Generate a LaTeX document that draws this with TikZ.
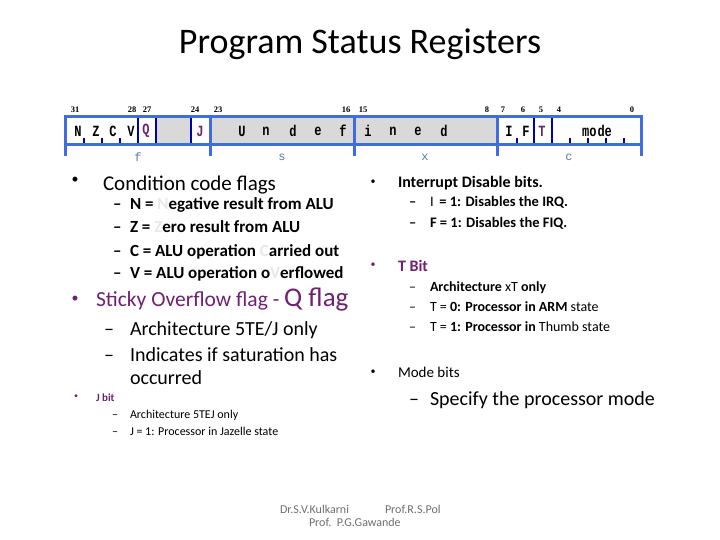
\documentclass[tikz,border=0pt]{standalone}
\usepackage{fontspec}
\usepackage{graphicx}
\setmainfont{Carlito}
\newfontfamily\monof{Liberation Mono}
\newfontfamily\serf{Liberation Serif}
\definecolor{regblue}{RGB}{64,108,222}
\definecolor{divblue}{RGB}{0,0,175}
\definecolor{regfill}{RGB}{217,217,217}
\definecolor{labcol}{RGB}{90,120,160}
\definecolor{purp}{RGB}{112,32,112}
\definecolor{ghost}{RGB}{232,232,232}
\definecolor{foot}{RGB}{110,110,110}
\newcommand{\tallreg}[1]{\scalebox{1}[1.3]{#1}}
\tikzset{
  txt/.style={anchor=base west,inner sep=0pt,outer sep=0pt},
  bul/.style={anchor=center,inner sep=0pt,outer sep=0pt},
  bitnum/.style={inner sep=0pt,font=\serf\bfseries\fontsize{8.5}{8.5}\selectfont},
  reg/.style={inner sep=0pt,font=\monof\bfseries\fontsize{12}{12}\selectfont},
  lab/.style={inner sep=0pt,text=labcol,font=\monof\fontsize{12}{12}\selectfont},
  outer/.style={draw=regblue,line width=3pt},
  bracket/.style={draw=regblue,line width=3pt},
  divider/.style={draw=divblue,line width=2.5pt},
  tick/.style={draw=divblue,line width=2.5pt},
}
\begin{document}
\begin{tikzpicture}[x=1pt,y=-1pt]
\useasboundingbox (0,0) rectangle (720,540);
% title
\node[inner sep=0pt,anchor=base,font=\fontsize{36}{36}\selectfont] (title) at (360,54) {Program Status Registers};
% bit numbers
\foreach \n/\x in {31/75,28/132,27/147,24/195,23/218,16/346,15/363,8/487,7/503,6/523,5/541,4/559,0/632}
  \node[bitnum] (b\n) at (\x,110) {\n};
% register body
\fill[regfill] (156,117) rectangle (191,145);
\fill[regfill] (210,117) rectangle (497,145);
\foreach \x in {138,156,191,534,552}
  \draw[divider] (\x,117) -- (\x,145);
\foreach \x in {84,102,120,517,570,588,606,624}
  \draw[tick] (\x,138) -- (\x,145);
\draw[outer] (65,117) rectangle (641,145);
\foreach \x in {210,354,497}
  \draw[bracket] (\x,117) -- (\x,156);
\foreach \x in {65,641}
  \draw[bracket] (\x,145) -- (\x,156);
% register letters
\foreach \l/\x [count=\i] in {N/78,Z/96,C/113,V/131,U/242,n/266,d/293,e/318,f/343,i/368,n/393,e/418,d/444,I/509,F/526}
  \node[reg] (r\i) at (\x,131) {\tallreg{\l}};
\node[reg,text=purp] (rq) at (146,131) {\tallreg{Q}};
\node[reg,text=purp] (rj) at (200,131) {\tallreg{J}};
\node[reg,text=purp] (rt) at (542,131) {\tallreg{T}};
\node[reg] (rmode) at (597,131) {\tallreg{mo\hspace{1pt}de}};
% field labels
\node[lab] (lf) at (138,157) {f};
\node[lab] (ls) at (282,157) {s};
\node[lab] (lx) at (425,157) {x};
\node[lab] (lc) at (569,157) {c};
% left column
\node[bul,font=\fontsize{14}{14}\selectfont] (bl1) at (75,180) {•};
\node[txt,font=\fontsize{21}{21}\selectfont] (cc) at (103,191) {Condition code flags};
\begin{scope}[font=\bfseries\fontsize{17}{17}\selectfont]
\node[txt] (d1) at (113,210) {–};
\node[txt] (tn) at (130,210) {N = \textcolor{ghost}{N}egative result from ALU};
\node[txt] (d2) at (113,233) {–};
\node[txt] (tz) at (130,233) {Z = \textcolor{ghost}{Z}ero result from ALU};
\node[txt] (d3) at (113,256) {–};
\node[txt] (tc) at (130,256) {C = ALU operation \textcolor{ghost}{C}arried out};
\node[txt] (d4) at (113,278) {–};
\node[txt] (tv) at (130,278) {V = ALU operation o\textcolor{ghost}{V}erflowed};
\end{scope}
\node[bul,text=purp,font=\fontsize{14}{14}\selectfont] (bl2) at (75,299) {•};
\node[txt,text=purp,font=\fontsize{21.5}{21.5}\selectfont] (sq) at (96,306) {Sticky Overflow flag - {\fontsize{27}{27}\selectfont Q flag}};
\begin{scope}[font=\fontsize{20}{20}\selectfont]
\node[txt] (d5) at (104,335) {–};
\node[txt] (ta) at (130,335) {Architecture 5TE/J only};
\node[txt] (d6) at (104,361) {–};
\node[txt] (ti) at (130,361) {Indicates if saturation has};
\node[txt] (to) at (130,384) {occurred};
\end{scope}
\node[bul,text=purp,font=\fontsize{8}{8}\selectfont] (bl3) at (76,397) {•};
\node[txt,text=purp,font=\bfseries\fontsize{11}{11}\selectfont] (jb) at (96,401) {J bit};
\begin{scope}[font=\fontsize{12}{12}\selectfont]
\node[txt] (d7) at (112,418) {–};
\node[txt] (tj1) at (130,418) {Architecture 5TEJ only};
\node[txt] (d8) at (112,435) {–};
\node[txt] (tj2) at (130,435) {J = 1: Processor in Jazelle state};
\end{scope}
% right column
\node[bul,font=\fontsize{10}{10}\selectfont] (br1) at (373,182) {•};
\node[txt,font=\bfseries\fontsize{16}{16}\selectfont] (ib) at (398,188) {Interrupt Disable bits.};
\begin{scope}[font=\bfseries\fontsize{14.5}{14.5}\selectfont]
\node[txt] (d9) at (409,207) {–};
\node[txt] (tI) at (430,207) {{\mdseries I} \,= 1: Disables the IRQ.};
\node[txt] (d10) at (409,227) {–};
\node[txt] (tF) at (430,227) {F = 1: Disables the FIQ.};
\end{scope}
\node[bul,text=purp,font=\fontsize{10}{10}\selectfont] (br2) at (373,265) {•};
\node[txt,text=purp,font=\bfseries\fontsize{16}{16}\selectfont] (tb) at (398,271) {T Bit};
\begin{scope}[font=\fontsize{14}{14}\selectfont]
\node[txt] (d11) at (409,291) {–};
\node[txt] (tx) at (430,291) {\textbf{Architecture} xT \textbf{only}};
\node[txt] (d12) at (409,311) {–};
\node[txt] (t0) at (430,311) {T = \textbf{0: Processor in ARM} state};
\node[txt] (d13) at (409,331) {–};
\node[txt] (t1) at (430,331) {T = \textbf{1: Processor in} Thumb state};
\end{scope}
\node[bul,font=\fontsize{10}{10}\selectfont] (br3) at (373,372) {•};
\node[txt,font=\fontsize{15}{15}\selectfont] (mb) at (398,377) {Mode bits};
\node[txt,font=\fontsize{20}{20}\selectfont] (d14) at (409,405) {–};
\node[txt,font=\fontsize{20}{20}\selectfont] (sp) at (430,405) {Specify the processor mode};
% footer
\node[txt,text=foot,font=\fontsize{12}{12}\selectfont] (f1) at (280,513) {Dr.S.V.Kulkarni};
\node[txt,text=foot,font=\fontsize{12}{12}\selectfont] (f2) at (385,513) {Prof.R.S.Pol};
\node[txt,text=foot,font=\fontsize{12}{12}\selectfont] (f3) at (309,526) {Prof.\ \ P.G.Gawande};
\end{tikzpicture}
\end{document}
